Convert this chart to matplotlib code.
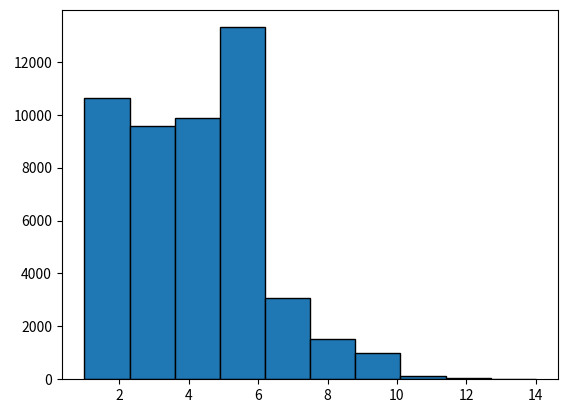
import numpy as np
import matplotlib.pyplot as plt

plt.rcParams['font.family'] = ['Noto Sans CJK KR', 'DejaVu Sans']
plt.rcParams['axes.unicode_minus'] = False

# 히스토그램 구간 경계와 빈도
edges = [1.0, 2.3, 3.6, 4.9, 6.2, 7.5, 8.8, 10.1, 11.4, 12.7, 14.0]
counts = [10640, 9580, 9880, 13320, 3070, 1520, 980, 120, 45, 10]

centers = [(a + b) / 2 for a, b in zip(edges[:-1], edges[1:])]

fig = plt.figure(figsize=(5.67, 4.12), dpi=100)
ax = fig.add_subplot(111)
ax.hist(centers, bins=edges, weights=counts, color='#1f77b4', edgecolor='black')
fig.subplots_adjust(left=0.109, right=0.985, top=0.976, bottom=0.080)
plt.savefig('out.png', dpi=100)
